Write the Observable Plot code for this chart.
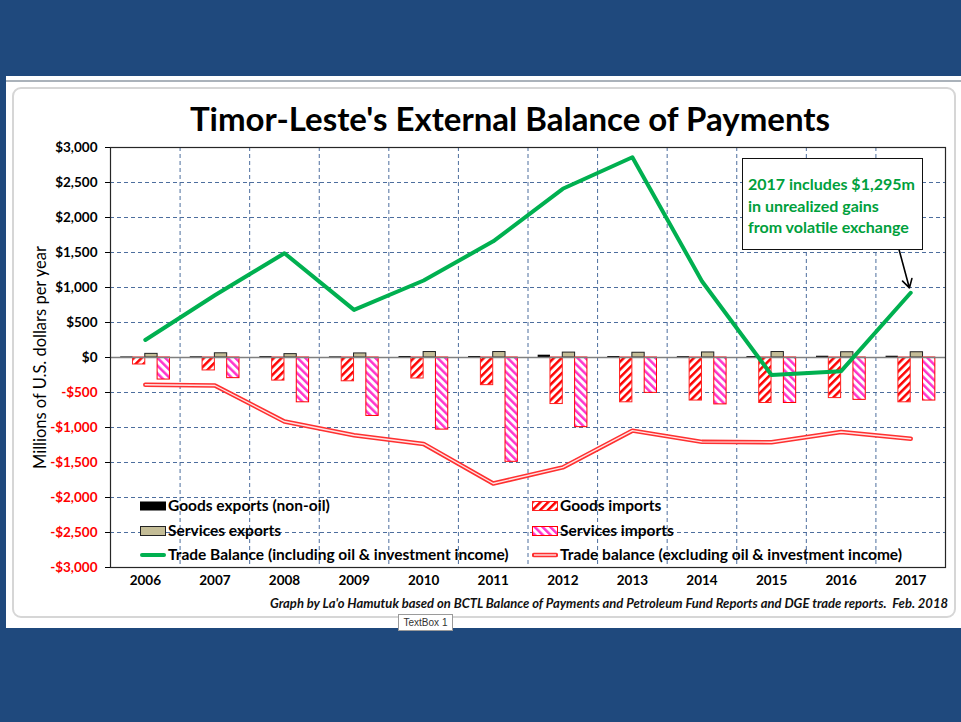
<!DOCTYPE html>
<html><head><meta charset="utf-8">
<script src="https://cdn.jsdelivr.net/npm/d3@7"></script>
<script src="https://cdn.jsdelivr.net/npm/@observablehq/plot@0.6"></script>
<style>
body{margin:0;background:#1f497d;width:961px;height:722px;overflow:hidden;position:relative;font-family:Lato,"Open Sans",sans-serif;}
.abs{position:absolute;}
#panel{left:6px;top:76px;width:955px;height:552px;background:#fff;}
#topline{left:6px;top:80px;width:955px;height:2px;background:#aab2ba;}
#frame{left:12px;top:87px;width:940px;height:527px;border:2px solid #d6d6d6;border-radius:9px;}
#title{left:0;width:1020px;top:98px;text-align:center;font-size:33px;font-weight:bold;color:#000;}
#chart{left:0;top:140px;}
#caption{right:13px;top:595px;font-size:13px;font-weight:bold;font-style:italic;color:#111;white-space:nowrap;}
#tb{left:398px;top:614px;width:53px;height:15px;border:1px solid #9a9a9a;background:#fff;font-size:10px;color:#333;text-align:center;line-height:15px;font-family:"Liberation Sans Narrow","Liberation Sans",sans-serif;}
#note{left:742px;top:158px;border:1.5px solid #111;background:#fff;color:#00a03c;font-weight:bold;font-size:16px;line-height:21.5px;padding:14px 0 0 5px;box-sizing:border-box;width:181px;height:92px;white-space:nowrap;}
.leg{position:absolute;font-size:15.5px;font-weight:bold;color:#000;white-space:nowrap;line-height:17px;}
.leg svg{vertical-align:middle;margin-right:2px;position:relative;top:-1px;}
#chart svg [aria-label="y-axis label"] text{font-size:16.5px;font-weight:normal;fill:#000;}
</style></head><body>
<svg width="0" height="0" style="position:absolute">
<defs>
<pattern id="hatchGoods" patternUnits="userSpaceOnUse" width="5.5" height="5.5" patternTransform="rotate(45)">
<rect width="5.5" height="5.5" fill="#fff"/><rect width="2.5" height="5.5" fill="#ff0000"/>
</pattern>
<pattern id="hatchServ" patternUnits="userSpaceOnUse" width="5.5" height="5.5" patternTransform="rotate(-45)">
<rect width="5.5" height="5.5" fill="#fff"/><rect width="2.5" height="5.5" fill="#ff33cc"/>
</pattern>
</defs></svg>
<div id="panel" class="abs"></div>
<div id="topline" class="abs"></div>
<div id="frame" class="abs"></div>
<div id="title" class="abs">Timor-Leste's External Balance of Payments</div>
<div id="chart" class="abs"></div>
<div id="caption" class="abs">Graph by La'o Hamutuk based on BCTL Balance of Payments and Petroleum Fund Reports and DGE trade reports.&nbsp; Feb. 2018</div>
<div id="tb" class="abs">TextBox 1</div>
<div id="note" class="abs">2017 includes $1,295m<br>in unrealized gains<br>from volatile exchange</div>
<div id="legend"></div>
<script>
// ---- data (millions of US$) ----
const years = [2006, 2007, 2008, 2009, 2010, 2011, 2012, 2013, 2014, 2015, 2016, 2017];
const goodsExports = [8, 10, 12, 9, 14, 14, 33, 14, 12, 13, 18, 18];
const servicesExports = [52, 60, 48, 58, 78, 78, 70, 68, 72, 78, 75, 75];
const goodsImports = [-100, -185, -330, -340, -300, -395, -665, -640, -615, -650, -580, -640];
const servicesImports = [-315, -295, -640, -835, -1030, -1490, -995, -505, -670, -650, -605, -615];
const tradeBalance = [250, 890, 1490, 680, 1100, 1660, 2410, 2860, 1090, -250, -195, 925];
const tradeBalanceExcl = [-390, -400, -915, -1110, -1235, -1800, -1570, -1045, -1205, -1210, -1065, -1160];
const yTicksPos = [0, 500, 1000, 1500, 2000, 2500, 3000];
const yTicksNeg = [-3000, -2500, -2000, -1500, -1000, -500];
const seriesNames = ["Goods exports (non-oil)", "Goods imports", "Services exports", "Services imports",
  "Trade Balance (including oil & investment income)", "Trade balance (excluding oil & investment income)"];
const yLabel = "Millions of U.S. dollars per year";
const noteAnchor = {year: 2016.83, value: 1550};

// ---- build tables ----
const barW = 0.177;
const barSeries = [goodsExports, goodsImports, servicesExports, servicesImports];
const bars = barSeries.map((vals, slot) => years.map((yr, i) => ({year: yr, slot, value: vals[i]})));
const lineIncl = years.map((yr, i) => ({year: yr, value: tradeBalance[i]}));
const lineExcl = years.map((yr, i) => ({year: yr, value: tradeBalanceExcl[i]}));
const bx1 = d => d.year - 2 * barW + d.slot * barW;
const bx2 = d => d.year - 2 * barW + (d.slot + 1) * barW;
const zero = () => 0;
const boundaries = years.slice(0, -1).map(y => y + 0.5);
const fmt = d => (d < 0 ? "-" : "") + "$" + d3.format(",")(Math.abs(d));
const gridColor = "#4d6e9e";
const arrowData = [{x1: noteAnchor.year, y1: noteAnchor.value, x2: years[years.length - 1], y2: tradeBalance[tradeBalance.length - 1]}];

const chart = Plot.plot({
  width: 961, height: 480,
  marginLeft: 110, marginRight: 16, marginTop: 7, marginBottom: 53,
  style: {background: "transparent", fontFamily: "Lato, 'Open Sans', sans-serif", overflow: "visible", color: "#000"},
  x: {type: "linear", domain: [years[0] - 0.5, years[years.length - 1] + 0.5]},
  y: {domain: [-3000, 3000]},
  marks: [
    Plot.ruleY([...yTicksNeg, ...yTicksPos.slice(1)], {stroke: gridColor, strokeWidth: 1, strokeDasharray: "4,3"}),
    Plot.ruleX(boundaries, {stroke: gridColor, strokeWidth: 1, strokeDasharray: "4,3"}),
    Plot.rect(bars[0], {x1: bx1, x2: bx2, y1: zero, y2: "value", fill: "#000"}),
    Plot.rect(bars[1], {x1: bx1, x2: bx2, y1: zero, y2: "value", fill: "url(#hatchGoods)", stroke: "#ff2020", strokeWidth: 1}),
    Plot.rect(bars[2], {x1: bx1, x2: bx2, y1: zero, y2: "value", fill: "#c4bd97", stroke: "#222", strokeWidth: 1}),
    Plot.rect(bars[3], {x1: bx1, x2: bx2, y1: zero, y2: "value", fill: "url(#hatchServ)", stroke: "#ff0000", strokeWidth: 1}),
    Plot.ruleY([0], {stroke: "#7f7f7f", strokeWidth: 1.5}),
    Plot.line(lineExcl, {x: "year", y: "value", stroke: "#ff3030", strokeWidth: 4.5}),
    Plot.line(lineExcl, {x: "year", y: "value", stroke: "#ffe4e4", strokeWidth: 1.4}),
    Plot.line(lineIncl, {x: "year", y: "value", stroke: "#00b050", strokeWidth: 4, strokeLinejoin: "round"}),
    Plot.arrow(arrowData, {x1: "x1", y1: "y1", x2: "x2", y2: "y2", stroke: "#000", strokeWidth: 1.6, headLength: 9, insetEnd: 5}),
    Plot.frame({stroke: "#262626", strokeWidth: 1.2}),
    Plot.axisY({ticks: yTicksPos, tickFormat: fmt, fontSize: 13.5, fontWeight: "bold", fill: "#000", tickSize: 5, tickPadding: 8,
      label: yLabel, labelAnchor: "center", labelOffset: 76, labelArrow: "none"}),
    Plot.axisY({ticks: yTicksNeg, tickFormat: fmt, fontSize: 13.5, fontWeight: "bold", fill: "#ff0000", stroke: "#000", tickSize: 5, tickPadding: 8, label: null}),
    Plot.axisX({ticks: years, tickFormat: d => String(d), fontSize: 13.5, fontWeight: "bold", tickSize: 0, tickPadding: 8, label: null})
  ]
});
document.getElementById("chart").appendChild(chart);
chart.querySelectorAll('[aria-label="y-axis label"] text').forEach(t => { t.textContent = yLabel; });

// ---- legend (HTML) ----
const sw = {
  0: '<rect x="0" y="0.5" width="26" height="9" fill="#000"/>',
  1: '<rect x="0.5" y="0.5" width="25" height="9" fill="url(#hatchGoods)" stroke="#ff2020"/>',
  2: '<rect x="0.5" y="0.5" width="25" height="9" fill="#c4bd97" stroke="#222"/>',
  3: '<rect x="0.5" y="0.5" width="25" height="9" fill="url(#hatchServ)" stroke="#ff0000"/>',
  4: '<line x1="2" y1="5" x2="24" y2="5" stroke="#00b050" stroke-width="4" stroke-linecap="round"/>',
  5: '<line x1="2" y1="5" x2="24" y2="5" stroke="#ff3030" stroke-width="4.5" stroke-linecap="round"/><line x1="2" y1="5" x2="24" y2="5" stroke="#ffe4e4" stroke-width="1.4"/>'
};
const legPos = [[140, 506], [532, 506], [140, 531], [532, 531], [140, 555], [532, 555]];
const legend = document.getElementById("legend");
seriesNames.forEach((name, k) => {
  const d = document.createElement("div");
  d.className = "leg";
  d.style.left = legPos[k][0] + "px";
  d.style.top = (legPos[k][1] - 9) + "px";
  d.innerHTML = `<svg width="26" height="10">${sw[k]}</svg>${name}`;
  legend.appendChild(d);
});
</script>
</body></html>
